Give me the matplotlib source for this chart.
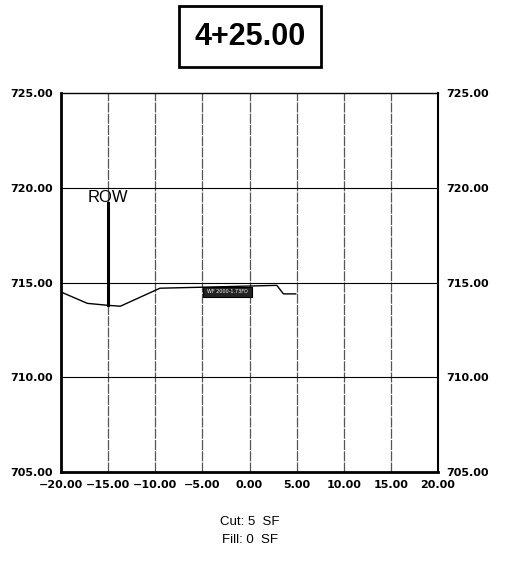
import matplotlib
matplotlib.use("Agg")
import matplotlib.pyplot as plt
from matplotlib.patches import Rectangle

# cross-section at station 4+25.00
station = "4+25.00"
ground_x = [-20.0, -17.2, -15.1, -13.7, -9.5, -5.2, 2.9, 3.6, 4.9]
ground_y = [714.5, 713.9, 713.8, 713.75, 714.7, 714.75, 714.85, 714.4, 714.4]
row_x = -15.0
row_y = [713.8, 719.2]
tag_x = [-4.9, 0.3]
tag_y = [714.25, 714.75]
tag_text = "WF 2000-1.73FO"
x_ticks = [-20, -15, -10, -5, 0, 5, 10, 15, 20]
y_ticks = [705, 710, 715, 720, 725]
cut_sf = 5
fill_sf = 0

tick_font = ["DejaVu Sans"]

fig = plt.figure(figsize=(5.24, 5.61), dpi=100)
ax = fig.add_axes([0.1164, 0.1586, 0.7195, 0.6756])
ax.set_xlim(-20, 20)
ax.set_ylim(705, 725)

# grid
for xv in x_ticks[1:-1]:
    ax.axvline(xv, color="#555555", lw=0.9, ls=(0, (8, 1)), zorder=1)
for yv in y_ticks[1:-1]:
    ax.axhline(yv, color="black", lw=0.8, zorder=1)

ax.plot(ground_x, ground_y, color="black", lw=1.0, zorder=3)
ax.plot([row_x, row_x], row_y, color="black", lw=2.2, zorder=3)
ax.text(row_x, 719.5, "ROW", ha="center", va="center", fontsize=12,
        family=["Liberation Sans", "DejaVu Sans"], zorder=4)

ax.add_patch(Rectangle((tag_x[0], tag_y[0]), tag_x[1] - tag_x[0], tag_y[1] - tag_y[0],
                       facecolor="#222222", edgecolor="black", lw=0.8, zorder=4))
ax.text(sum(tag_x) / 2, sum(tag_y) / 2, tag_text, ha="center", va="center",
        fontsize=3.5, color="white", zorder=5)

ax.set_xticks(x_ticks)
ax.set_yticks(y_ticks)
ax.set_xticklabels([f"{v:.2f}".replace("-", "\u2212") for v in x_ticks])
ax.set_yticklabels([f"{v:.2f}" for v in y_ticks])
ax.tick_params(axis="both", length=0, labelsize=8)
ax.tick_params(axis="y", labelright=True, pad=6)
ax.tick_params(axis="x", pad=6)
for t in ax.xaxis.get_major_ticks() + ax.yaxis.get_major_ticks():
    for lab in (t.label1, t.label2):
        lab.set_family(tick_font)
        lab.set_fontweight("bold")

ax.spines["left"].set_linewidth(2.0)
ax.spines["bottom"].set_linewidth(2.0)
ax.spines["right"].set_linewidth(1.5)
ax.spines["top"].set_linewidth(1.0)

fig.text(0.4771, 0.9345, station, ha="center", va="center", fontsize=22, fontweight="bold",
         family=["Liberation Sans", "DejaVu Sans"],
         bbox=dict(boxstyle="square,pad=0.5", facecolor="white", edgecolor="black", lw=2))

fig.text(0.4771, 0.069, f"Cut: {cut_sf}  SF", ha="center", va="center", fontsize=9.5,
         family=["Liberation Sans", "DejaVu Sans"])
fig.text(0.4771, 0.037, f"Fill: {fill_sf}  SF", ha="center", va="center", fontsize=9.5,
         family=["Liberation Sans", "DejaVu Sans"])

fig.savefig("out.png", dpi=100)
